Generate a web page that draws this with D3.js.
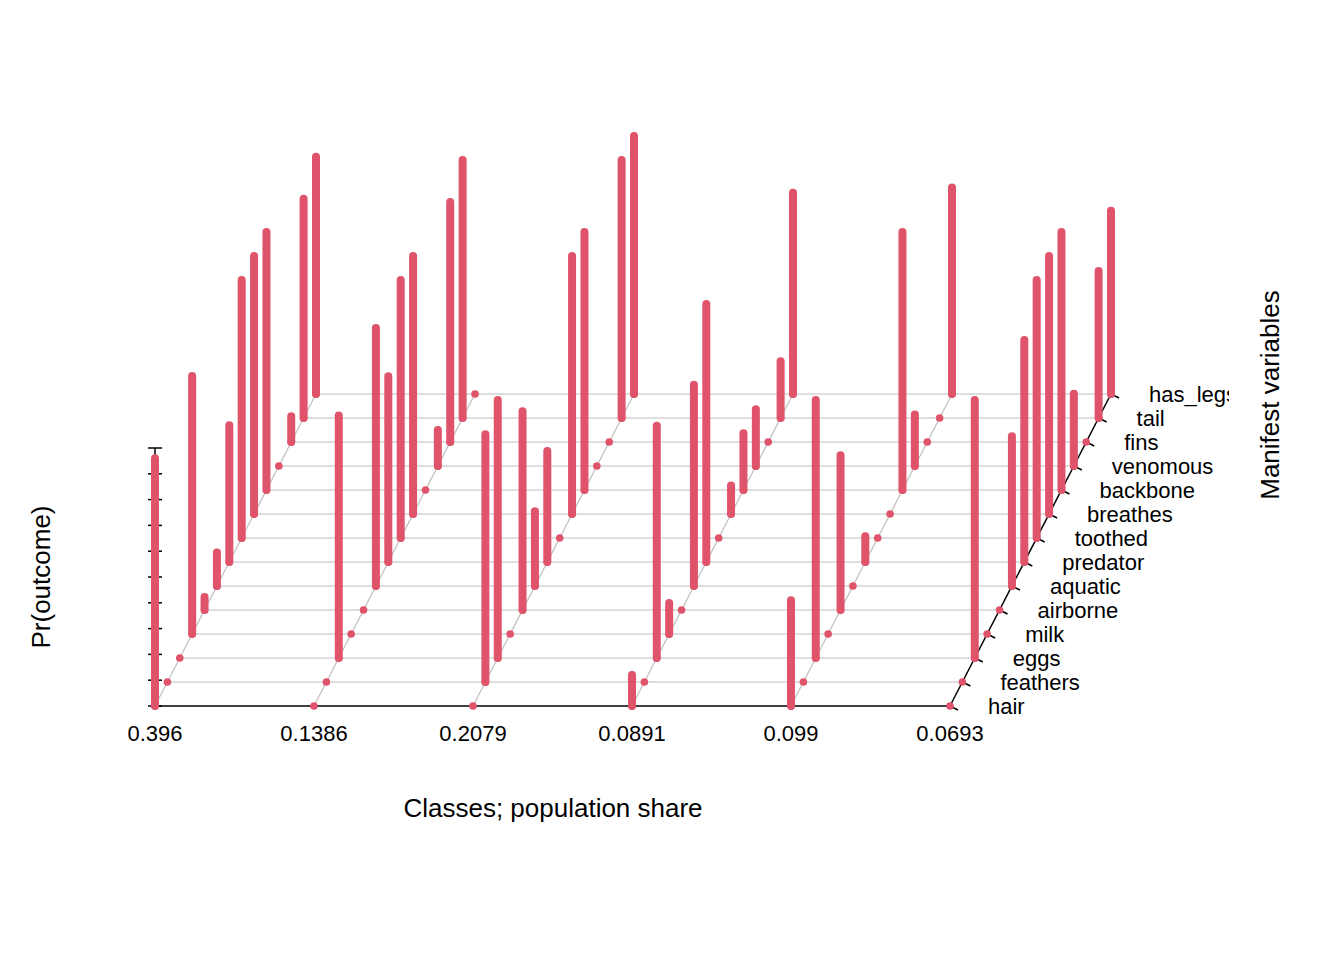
<!DOCTYPE html>
<html lang="en">
<head>
<meta charset="UTF-8">
<title>LCA profile</title>
<script src="https://d3js.org/d3.v7.min.js"></script>
<style>
  body { margin: 0; background: #fff; }
  text { font-family: Arial, "Liberation Sans", sans-serif; fill: #000; }
</style>
</head>
<body>
<script>
const classShares = ["0.396", "0.1386", "0.2079", "0.0891", "0.099", "0.0693"];
const variables = ["hair", "feathers", "eggs", "milk", "airborne", "aquatic", "predator",
                   "toothed", "breathes", "backbone", "venomous", "fins", "tail", "has_legs"];
// probability per class, in the order of variables
const class1 = [0.96, 0, 0, 1.0, 0.05, 0.13, 0.53, 1.0, 1.0, 1.0, 0, 0.1, 0.85, 0.92];
const class2 = [0, 0, 0.94, 0, 0, 1.0, 0.72, 1.0, 1.0, 0, 0.14, 0.93, 1.0, 0];
const class3 = [0, 0.96, 1.0, 0, 0.77, 0.29, 0.43, 0, 1.0, 1.0, 0, 0, 1.0, 1.0];
const class4 = [0.12, 0, 0.9, 0.12, 0, 0.78, 1.0, 0, 0.11, 0.22, 0.22, 0, 0.22, 0.78];
const class5 = [0.41, 0, 1.0, 0, 0.6, 0, 0.1, 0, 0, 1.0, 0.2, 0, 0, 0.8];
const class6 = [0, 0, 1.0, 0, 0, 0.58, 0.86, 1.0, 1.0, 1.0, 0.28, 0, 0.57, 0.71];
const probs = [class1, class2, class3, class4, class5, class6];

const W = 1344, H = 960, red = "#DF536B";
const svg = d3.select("body").append("svg").attr("width", W).attr("height", H);

// oblique projection: class -> x, variable -> depth (up-right), prob -> up
const xs = d3.scaleLinear().domain([0, 5]).range([155, 950]);
const depthY = d3.scaleLinear().domain([0, 13]).range([706, 394]);
const depthX = d3.scaleLinear().domain([0, 13]).range([0, 161]);
const zs = d3.scaleLinear().domain([0, 1]).range([0, 258]);
const px = (c, v) => xs(c) + depthX(v);
const py = (v, p) => depthY(v) - zs(p);

// grid
const grid = svg.append("g").attr("stroke", "#bebebe").attr("stroke-width", 1.2);
variables.forEach((_, v) => {
  if (v === 0) return;
  grid.append("line").attr("x1", px(0, v)).attr("x2", px(5, v))
    .attr("y1", depthY(v)).attr("y2", depthY(v));
});
classShares.forEach((_, c) => {
  if (c === 5) return;
  grid.append("line").attr("x1", px(c, 0)).attr("y1", depthY(0))
    .attr("x2", px(c, 13)).attr("y2", depthY(13));
});

// axes
const ax = svg.append("g").attr("stroke", "#000").attr("stroke-width", 1.5);
ax.append("line").attr("x1", xs(0)).attr("x2", xs(5)).attr("y1", depthY(0)).attr("y2", depthY(0));
ax.append("line").attr("x1", px(5, 0)).attr("y1", depthY(0)).attr("x2", px(5, 13)).attr("y2", depthY(13));
variables.forEach((_, v) => {
  ax.append("line").attr("x1", px(5, v)).attr("y1", depthY(v))
    .attr("x2", px(5, v) + 8).attr("y2", depthY(v) + 4);
});
ax.append("line").attr("x1", xs(0)).attr("x2", xs(0)).attr("y1", py(0, 0)).attr("y2", py(0, 1));
d3.range(0, 1.0001, 0.1).forEach(t => {
  ax.append("line").attr("x1", xs(0) - 7).attr("x2", xs(0) + 7)
    .attr("y1", py(0, t)).attr("y2", py(0, t));
});

// bars, back to front
const marks = svg.append("g");
for (let v = variables.length - 1; v >= 0; v--) {
  probs.forEach((row, c) => {
    marks.append("circle").attr("cx", px(c, v)).attr("cy", depthY(v)).attr("r", 3.8).attr("fill", red);
    if (row[v] > 0) {
      marks.append("line").attr("x1", px(c, v)).attr("x2", px(c, v))
        .attr("y1", depthY(v)).attr("y2", py(v, row[v]))
        .attr("stroke", red).attr("stroke-width", 8).attr("stroke-linecap", "round");
    }
  });
}

// labels
classShares.forEach((s, c) => {
  svg.append("text").attr("x", xs(c)).attr("y", 741).attr("text-anchor", "middle")
    .attr("font-size", 22).text(s);
});
const lab = svg.append("g").attr("clip-path", "url(#clipR)");
svg.append("clipPath").attr("id", "clipR").append("rect").attr("x", 0).attr("y", 0).attr("width", 1229).attr("height", H);
variables.forEach((name, v) => {
  lab.append("text").attr("x", px(5, v) + 38).attr("y", depthY(v) + 8)
    .attr("font-size", 22).text(name);
});
svg.append("text").attr("x", 553).attr("y", 817).attr("text-anchor", "middle")
  .attr("font-size", 26).text("Classes; population share");
svg.append("text").attr("transform", "translate(50,577) rotate(-90)").attr("text-anchor", "middle")
  .attr("font-size", 26).text("Pr(outcome)");
svg.append("text").attr("transform", "translate(1279,395) rotate(-90)").attr("text-anchor", "middle")
  .attr("font-size", 26).text("Manifest variables");
</script>
</body>
</html>
